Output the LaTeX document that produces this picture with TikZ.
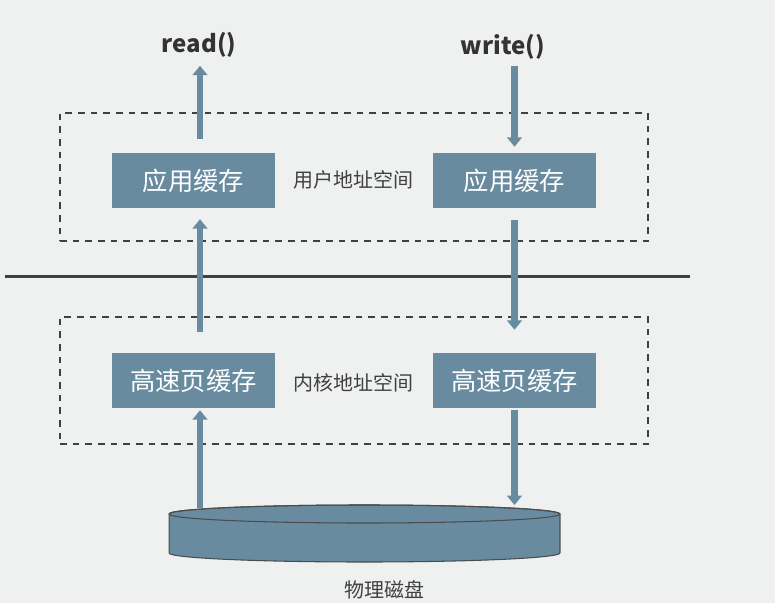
\documentclass[tikz,border=0pt]{standalone}
\usepackage{fontspec}
\setmainfont{Liberation Sans}
\newfontfamily\cjk{Noto Sans CJK SC}
\usetikzlibrary{arrows.meta}
\definecolor{cachefill}{RGB}{104,139,160}
\definecolor{bgcol}{RGB}{239,240,240}
\definecolor{inkgray}{RGB}{64,64,64}

\begin{document}
\begin{tikzpicture}[x=0.75pt, y=-0.75pt,
  cache/.style={fill=cachefill, minimum width=122.25pt, minimum height=41.25pt,
    inner sep=0pt, text=white, font=\cjk\fontsize{19}{19}\selectfont},
  space/.style={draw=inkgray, line width=1.2pt, dash pattern=on 5pt off 4.5pt,
    minimum width=441pt, minimum height=96pt, inner sep=0pt},
  lbl/.style={text=inkgray, font=\cjk\fontsize{15}{15}\selectfont},
  call/.style={inner sep=0pt, text=black!80, font=\cjk\bfseries\fontsize{18}{18}\selectfont},
  arr/.style={draw=cachefill, line width=5pt, -{Triangle[width=11pt,length=7pt]}}
]
\fill[bgcol] (0,0) rectangle (775,603);
\useasboundingbox (0,0) rectangle (775,603);

% address spaces
\node[space] (user) at (354,177) {};
\node[space, minimum height=95.25pt] (kernel) at (354,380.5) {};
\draw[line width=2.25pt, black!75] (5,276) coordinate (split-l) -- (690,276) coordinate (split-r);

\node[lbl] (userlbl) at (353,180) {用户地址空间};
\node[lbl] (kernlbl) at (353,383) {内核地址空间};

% caches
\node[cache] (rapp) at (193.5,180.5) {应用缓存};
\node[cache] (wapp) at (514.5,180.5) {应用缓存};
\node[cache] (rcache) at (193.5,380.5) {高速页缓存};
\node[cache] (wcache) at (514.5,380.5) {高速页缓存};

% system calls
\node[call] (readcall) at (199,45) {read()};
\node[call] (writecall) at (503,47) {write()};

\coordinate (dl) at (200,509);
\coordinate (dr) at (514.5,505);

% read path
\draw[arr, shorten <=1pt, shorten >=1.5pt] (dl) -- (rcache.south -| dl);
\draw[arr, shorten <=15.75pt, shorten >=8.25pt] (rcache.north -| dl) -- (rapp.south -| dl);
\draw[arr, shorten <=10.5pt, shorten >=6pt] (rapp.north -| dl) -- (readcall.south -| dl);

% write path
\draw[arr, shorten <=5pt, shorten >=4.5pt] (writecall.south -| wapp) -- (wapp.north);
\draw[arr, shorten <=9pt, shorten >=17.25pt] (wapp.south) -- (wcache.north);
\draw[arr, shorten <=1.5pt] (wcache.south) -- (dr);

% disk
\coordinate (disk) at (364.5,514);
\filldraw[fill=cachefill, draw=black!70, line width=0.8pt]
  ([xshift=-146.6pt]disk) -- ++(0,-29.25pt)
  arc[start angle=180, end angle=360, x radius=146.6pt, y radius=6.75pt]
  -- ++(0,29.25pt)
  arc[start angle=0, end angle=180, x radius=146.6pt, y radius=6.75pt] -- cycle;
\draw[black!70, line width=0.8pt] (disk) ellipse[x radius=146.6pt, y radius=6.75pt];
\node[lbl] (disklbl) at (384,590) {物理磁盘};
\end{tikzpicture}
\end{document}
